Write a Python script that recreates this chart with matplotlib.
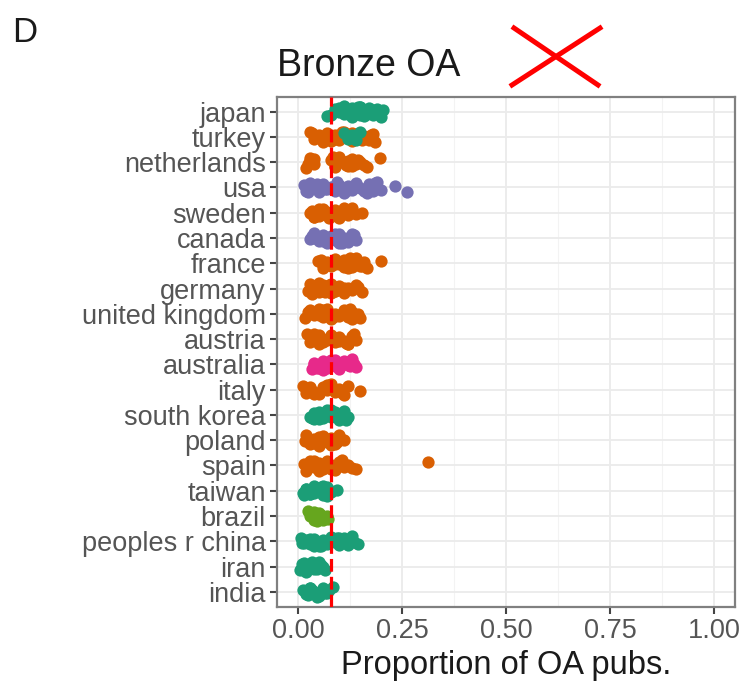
import matplotlib
matplotlib.use("Agg")
import matplotlib.pyplot as plt
from matplotlib.lines import Line2D

plt.rcParams['font.family'] = ['Liberation Sans', 'DejaVu Sans']

# ---------------- data ----------------
countries = ["japan", "turkey", "netherlands", "usa", "sweden", "canada", "france",
             "germany", "united kingdom", "austria", "australia", "italy",
             "south korea", "poland", "spain", "taiwan", "brazil",
             "peoples r china", "iran", "india"]

region_of = {"japan": "Asia", "turkey": "Europe", "netherlands": "Europe",
             "usa": "North America", "sweden": "Europe", "canada": "North America",
             "france": "Europe", "germany": "Europe", "united kingdom": "Europe",
             "austria": "Europe", "australia": "Oceania", "italy": "Europe",
             "south korea": "Asia", "poland": "Europe", "spain": "Europe",
             "taiwan": "Asia", "brazil": "South America", "peoples r china": "Asia",
             "iran": "Asia", "india": "Asia"}

values = {
    "japan": [0.07, 0.09, 0.10, 0.11, 0.12, 0.12, 0.13, 0.13, 0.14, 0.14, 0.15, 0.15,
              0.16, 0.16, 0.17, 0.17, 0.18, 0.18, 0.19, 0.20, 0.205, 0.11, 0.15, 0.19,
              0.08, 0.10, 0.125, 0.145, 0.165, 0.185],
    "turkey": [0.03, 0.04, 0.05, 0.06, 0.07, 0.08, 0.09, 0.10, 0.11, 0.12, 0.13, 0.14,
               0.15, 0.16, 0.17, 0.18, 0.185, 0.05, 0.09, 0.13, 0.17, 0.08, 0.035,
               0.065, 0.105, 0.155, 0.175],
    "netherlands": [0.02, 0.03, 0.04, 0.08, 0.09, 0.10, 0.11, 0.12, 0.13, 0.14, 0.15,
                    0.16, 0.03, 0.09, 0.12, 0.14, 0.197, 0.10, 0.13, 0.04, 0.025,
                    0.085, 0.115, 0.145, 0.165],
    "usa": [0.015, 0.02, 0.03, 0.04, 0.05, 0.06, 0.07, 0.08, 0.09, 0.10, 0.11, 0.12,
            0.13, 0.14, 0.15, 0.16, 0.17, 0.18, 0.19, 0.20, 0.233, 0.262, 0.05, 0.10,
            0.14, 0.18, 0.03, 0.12, 0.025, 0.045, 0.075, 0.095, 0.115, 0.135, 0.165,
            0.185, 0.065],
    "sweden": [0.03, 0.04, 0.05, 0.06, 0.07, 0.08, 0.09, 0.10, 0.11, 0.12, 0.13, 0.155,
               0.04, 0.06, 0.09, 0.11, 0.05, 0.035, 0.075, 0.115, 0.14],
    "canada": [0.03, 0.04, 0.05, 0.06, 0.07, 0.08, 0.09, 0.10, 0.11, 0.12, 0.13, 0.14,
               0.04, 0.06, 0.08, 0.10, 0.12, 0.05, 0.09, 0.11, 0.035, 0.075, 0.105,
               0.135],
    "france": [0.048, 0.06, 0.07, 0.08, 0.09, 0.10, 0.11, 0.12, 0.13, 0.14, 0.15, 0.16,
               0.165, 0.07, 0.09, 0.11, 0.13, 0.20, 0.06, 0.12, 0.055, 0.085, 0.125,
               0.155],
    "germany": [0.025, 0.03, 0.04, 0.05, 0.06, 0.07, 0.08, 0.09, 0.10, 0.11, 0.12, 0.13,
                0.14, 0.155, 0.04, 0.06, 0.08, 0.10, 0.12, 0.05, 0.09, 0.11, 0.035,
                0.075, 0.115, 0.145, 0.065],
    "united kingdom": [0.017, 0.03, 0.04, 0.05, 0.06, 0.07, 0.08, 0.09, 0.10, 0.11, 0.12,
                       0.13, 0.14, 0.15, 0.03, 0.05, 0.07, 0.09, 0.11, 0.13, 0.06, 0.10,
                       0.025, 0.085, 0.125, 0.145],
    "austria": [0.023, 0.03, 0.04, 0.05, 0.06, 0.07, 0.08, 0.09, 0.10, 0.11, 0.12, 0.13,
                0.14, 0.04, 0.06, 0.09, 0.12, 0.05, 0.10, 0.035, 0.115, 0.135],
    "australia": [0.033, 0.04, 0.05, 0.06, 0.07, 0.08, 0.09, 0.10, 0.11, 0.12, 0.13, 0.14,
                  0.04, 0.06, 0.08, 0.10, 0.12, 0.05, 0.09, 0.11, 0.045, 0.085, 0.125,
                  0.135],
    "italy": [0.012, 0.02, 0.03, 0.04, 0.05, 0.06, 0.07, 0.08, 0.09, 0.10, 0.11, 0.12,
              0.149, 0.03, 0.05, 0.07, 0.09, 0.04, 0.08, 0.025, 0.065, 0.105],
    "south korea": [0.03, 0.04, 0.05, 0.06, 0.07, 0.08, 0.09, 0.10, 0.11, 0.12, 0.04,
                    0.06, 0.08, 0.10, 0.05, 0.09, 0.11, 0.07, 0.035, 0.075, 0.115],
    "poland": [0.017, 0.02, 0.03, 0.04, 0.05, 0.06, 0.07, 0.08, 0.09, 0.10, 0.11, 0.03,
               0.05, 0.07, 0.09, 0.04, 0.06, 0.08, 0.025, 0.095],
    "spain": [0.015, 0.02, 0.03, 0.04, 0.05, 0.06, 0.07, 0.08, 0.09, 0.10, 0.11, 0.12,
              0.14, 0.03, 0.05, 0.07, 0.09, 0.04, 0.06, 0.08, 0.313, 0.025, 0.105,
              0.13],
    "taiwan": [0.012, 0.02, 0.03, 0.04, 0.05, 0.06, 0.07, 0.08, 0.093, 0.03, 0.05, 0.07,
               0.02, 0.04, 0.06, 0.08, 0.015, 0.055],
    "brazil": [0.025, 0.03, 0.04, 0.05, 0.06, 0.07, 0.073, 0.035, 0.045, 0.055, 0.065,
               0.04, 0.05, 0.06],
    "peoples r china": [0.007, 0.01, 0.02, 0.03, 0.04, 0.05, 0.06, 0.07, 0.08, 0.09,
                        0.10, 0.11, 0.12, 0.13, 0.145, 0.02, 0.04, 0.06, 0.08, 0.10,
                        0.12, 0.03, 0.015, 0.055, 0.095, 0.135],
    "iran": [0.005, 0.01, 0.02, 0.03, 0.04, 0.05, 0.06, 0.065, 0.015, 0.025, 0.035,
             0.045, 0.055, 0.02, 0.04, 0.01],
    "india": [0.012, 0.02, 0.03, 0.04, 0.05, 0.06, 0.07, 0.085, 0.025, 0.035, 0.045,
              0.055, 0.065, 0.03, 0.05, 0.075],
}
# a few turkey points shown in the Asia colour
turkey_asia = [0.11, 0.12, 0.13, 0.14, 0.15]

reference_value = 0.08

x_ticks = [0.00, 0.25, 0.50, 0.75, 1.00]
x_tick_labels = ["0.00", "0.25", "0.50", "0.75", "1.00"]

# ---------------- style ----------------
region_colors = {"Asia": "#1B9E77", "Europe": "#D95F02", "North America": "#7570B3",
                 "Oceania": "#E7298A", "South America": "#66A61E"}
jitter = [0.18, -0.12, 0.03, -0.21, 0.10, -0.04, 0.21, -0.16, 0.07, -0.08, 0.14,
          -0.19, 0.00, 0.16, -0.13, 0.05, -0.02, 0.12, -0.10, 0.20, -0.06, 0.09,
          -0.17, 0.01, 0.15, -0.14, 0.06, -0.20, 0.11, -0.07, 0.19, -0.01, 0.04,
          -0.15, 0.13, -0.09, 0.08]

fig = plt.figure(figsize=(7.44, 6.87), dpi=100)
L, R, B, T = 277 / 744, 735 / 744, 1 - 607 / 687, 1 - 96.5 / 687
ax = fig.add_axes([L, B, R - L, T - B])

n = len(countries)
ypos = {c: i for i, c in enumerate(countries)}
PT_SIZE = 78

for ci, c in enumerate(countries):
    vals = values[c]
    ys = [ypos[c] + jitter[(k + 3 * ci) % len(jitter)] for k in range(len(vals))]
    ax.scatter(vals, ys, s=PT_SIZE, color=region_colors[region_of[c]], linewidths=0,
               zorder=3)
ys_ta = [ypos["turkey"] + jitter[(k + 7) % len(jitter)] for k in range(len(turkey_asia))]
ax.scatter(turkey_asia, ys_ta, s=PT_SIZE, color=region_colors["Asia"], linewidths=0,
           zorder=3)

ax.axvline(reference_value, color="#FF0000", lw=2.3, dashes=(4, 1.6), zorder=4)

ax.set_xlim(-0.05, 1.05)
ax.set_ylim(n - 1 + 0.6, -0.6)
ax.set_xticks(x_ticks)
ax.set_xticklabels(x_tick_labels)
ax.set_xticks([0.125, 0.375, 0.625, 0.875], minor=True)
ax.set_yticks(range(n))
ax.set_yticklabels(countries)

ax.grid(True, which="major", color="#EBEBEB", lw=1.3, zorder=0)
ax.grid(True, which="minor", axis="x", color="#F3F3F3", lw=0.8, zorder=0)
ax.set_axisbelow(True)
for s in ax.spines.values():
    s.set_color("#808080")
    s.set_linewidth(1.6)
ax.tick_params(axis="both", which="major", length=5, width=1.5, color="#444444",
               labelsize=19.5, labelcolor="#555555", pad=3)
ax.tick_params(axis="both", which="minor", length=0)

ax.set_xlabel("Proportion of OA pubs.", fontsize=23.5, color="#1A1A1A", labelpad=4)

fig.text(277 / 744, 1 - 76 / 687, "Bronze OA", fontsize=27, color="#1A1A1A",
         ha="left", va="baseline")
fig.text(12 / 744, 1 - 42 / 687, "D", fontsize=25, color="#1A1A1A",
         ha="left", va="baseline")

# red cross annotation
fig.add_artist(Line2D([514 / 744, 598 / 744], [1 - 28 / 687, 1 - 85 / 687],
                      transform=fig.transFigure, color="#FF0000", lw=3.6))
fig.add_artist(Line2D([600 / 744, 512 / 744], [1 - 28 / 687, 1 - 85 / 687],
                      transform=fig.transFigure, color="#FF0000", lw=3.6))

fig.savefig("out.png", dpi=100, facecolor="white")
